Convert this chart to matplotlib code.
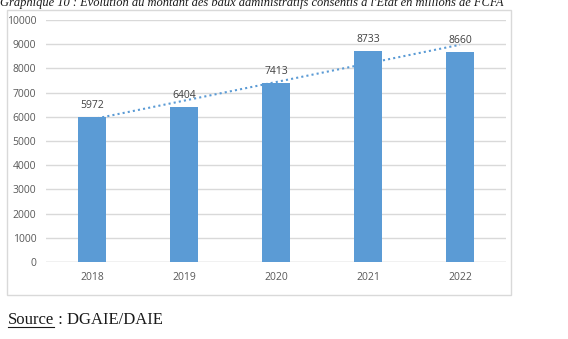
import numpy as np
import matplotlib.pyplot as plt
from matplotlib.patches import Rectangle
from matplotlib.lines import Line2D

# Data
years = ['2018', '2019', '2020', '2021', '2022']
montants = [5972, 6404, 7413, 8733, 8660]
yticks = [0, 1000, 2000, 3000, 4000, 5000, 6000, 7000, 8000, 9000, 10000]

bar_color = '#5b9bd5'
grid_color = '#d9d9d9'
text_color = '#595959'

fig = plt.figure(figsize=(5.68, 3.39), dpi=100)
W, H = 568, 339

# chart frame
fig.patches.append(Rectangle((7 / W, 1 - 295 / H), 504 / W, 285 / H,
                             transform=fig.transFigure, fill=False,
                             edgecolor=grid_color, linewidth=1))

ax = fig.add_axes([46 / W, 1 - 262 / H, 460 / W, 242 / H])
x = np.arange(len(years))
ax.bar(x, montants, width=0.31, color=bar_color, zorder=3)

# linear trend
coef = np.polyfit(x, montants, 1)
ax.plot(x, np.polyval(coef, x), linestyle=(0, (1, 1.5)), color=bar_color,
        linewidth=1.5, zorder=4)

for xi, v in zip(x, montants):
    ax.text(xi, v + 250, str(v), ha='center', va='bottom', fontsize=7.5,
            color='#404040', family='Open Sans')

ax.set_xlim(-0.5, len(years) - 0.5)
ax.set_ylim(0, 10000)
ax.set_yticks(yticks)
ax.set_yticklabels([str(t) for t in yticks])
ax.set_xticks(x)
ax.set_xticklabels(years)
ax.tick_params(length=0, labelsize=7.5, labelcolor=text_color, pad=7)
for lab in ax.get_xticklabels() + ax.get_yticklabels():
    lab.set_family('Open Sans')
ax.yaxis.grid(True, color=grid_color, linewidth=1, zorder=0)
for s in ax.spines.values():
    s.set_visible(False)
ax.axhline(0, color=grid_color, linewidth=1, zorder=2)

fig.text(0, 1 - 3 / H,
         "Graphique 10 : Evolution du montant des baux administratifs consentis à l'Etat en millions de FCFA",
         ha='left', va='center', fontsize=9, style='italic',
         family='Liberation Serif', color='#1a1a1a')

src = fig.text(8 / W, 1 - 320 / H, 'Source', ha='left', va='center',
               fontsize=12, family='Liberation Serif', color='#1a1a1a')
fig.canvas.draw()
bb = src.get_window_extent()
fig.text(bb.x1 / W, 1 - 320 / H, ' : DGAIE/DAIE', ha='left', va='center',
         fontsize=12, family='Liberation Serif', color='#1a1a1a')
fig.lines.append(Line2D([bb.x0 / W, bb.x1 / W], [(bb.y0 + 1.5) / H] * 2,
                        transform=fig.transFigure, color='#1a1a1a', linewidth=0.8))

fig.savefig('out.png', dpi=100)
